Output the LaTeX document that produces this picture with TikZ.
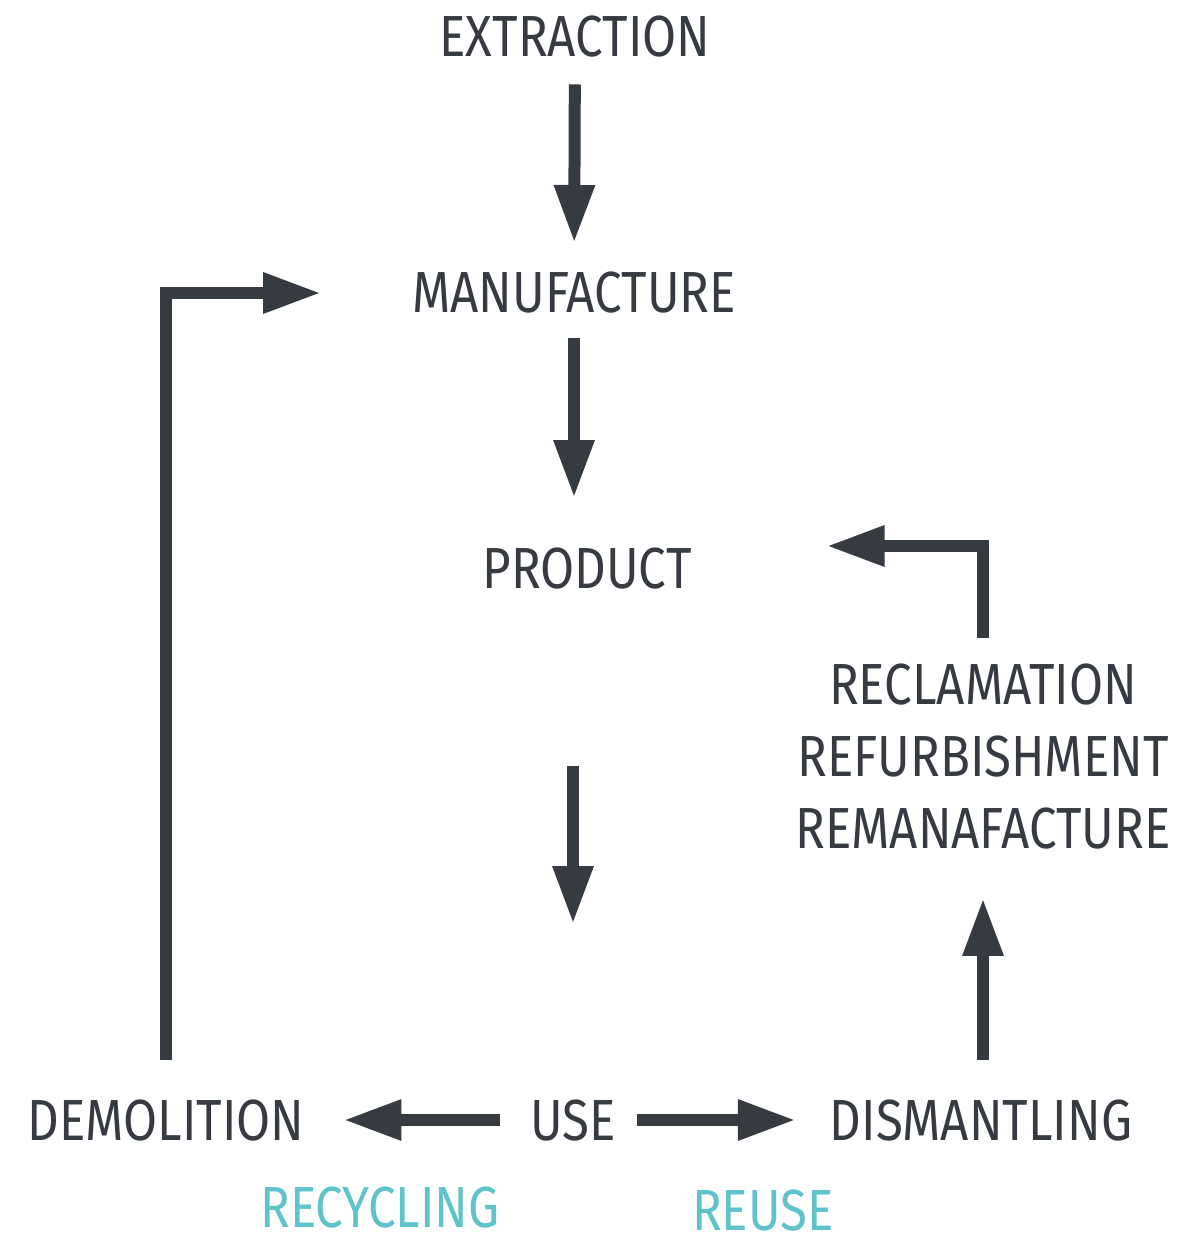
\documentclass[tikz,border=0pt]{standalone}
\usepackage{fontspec}
\setmainfont[FakeStretch=0.85]{Fira Sans}
\usetikzlibrary{arrows.meta}
\definecolor{ink}{HTML}{363A41}
\definecolor{recover}{HTML}{5EC3CB}

\begin{document}
\begin{tikzpicture}[x=0.02cm,y=-0.02cm,
  stage/.style={text=ink,font=\fontsize{33}{40}\selectfont,inner sep=0pt,outer sep=0pt,
    text height=0.8cm,text depth=0pt},
  route/.style={stage,text=recover},
  flow/.style={draw=ink,line width=0.24cm,-{Triangle[length=1.16cm,width=0.76cm]},
    shorten <=0.55cm,shorten >=0.6cm}]

\useasboundingbox (0,0) rectangle (1192,1236);

% linear chain
\node[stage] (extraction) at (575,37) {EXTRACTION};
\node[stage] (manufacture) at (574,293) {MANUFACTURE};
\node[stage] (product) at (587,568) {PRODUCT};

% recovery loop on the right
\node[stage] (reclamation) at (983,684) {RECLAMATION};
\node[stage] (refurbishment) at (983,756) {REFURBISHMENT};
\node[stage] (remanufacture) at (983,828) {REMANAFACTURE};

% end of life row
\node[stage] (demolition) at (166,1120) {DEMOLITION};
\node[stage] (use) at (573,1120) {USE};
\node[stage] (dismantling) at (981,1120) {DISMANTLING};
\node[route] (recycling) at (380,1207) {RECYCLING};
\node[route] (reuse) at (763,1210) {REUSE};

\draw[flow] (extraction) -- (manufacture);
\draw[flow,shorten <=0.5cm,shorten >=1cm] (manufacture.south) -- (manufacture.south |- product.north);
\draw[flow,shorten <=3.56cm,shorten >=3.52cm] (use.north |- product.south) -- (use.north);
\draw[flow,shorten <=0.6cm,shorten >=0.78cm] (use.west) -- (demolition.east);
\draw[flow,shorten <=0.42cm,shorten >=0.68cm] (use.east) -- (dismantling.west);
\draw[flow,shorten <=0.8cm,shorten >=1cm] (remanufacture.south |- dismantling.north) -- (remanufacture.south);
\draw[flow,shorten <=0.52cm,shorten >=2.7cm] (reclamation.north) |- ([yshift=0.44cm]product.east);
\draw[flow,shorten <=0.8cm,shorten >=1.82cm] (demolition.north) |- (manufacture.west);
\end{tikzpicture}
\end{document}
